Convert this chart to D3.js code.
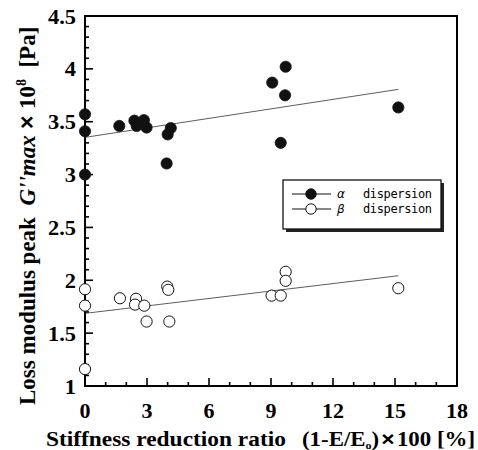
<!DOCTYPE html>
<html>
<head>
<meta charset="utf-8">
<script src="https://cdnjs.cloudflare.com/ajax/libs/d3/7.8.5/d3.min.js"></script>
<style>
  body { margin: 0; background: #fff; }
  svg { display: block; }
  text { white-space: pre; }
</style>
</head>
<body>
<div id="chart"></div>
<script>
// alpha dispersion (filled)
var alphaX = [0, 0, 0, 1.66, 2.39, 2.5, 2.85, 2.98, 3.95, 4.0, 4.15, 9.71, 9.06, 9.68, 9.47, 15.16];
var alphaY = [3.57, 3.41, 3.0, 3.46, 3.51, 3.46, 3.515, 3.445, 3.105, 3.38, 3.44, 4.02, 3.87, 3.75, 3.30, 3.635];
// beta dispersion (open)
var betaX = [0, 0, 0, 1.69, 2.47, 2.42, 2.87, 2.98, 3.98, 4.03, 4.08, 9.71, 9.71, 9.03, 9.47, 15.16];
var betaY = [1.915, 1.76, 1.16, 1.83, 1.825, 1.77, 1.76, 1.61, 1.94, 1.91, 1.61, 2.08, 1.995, 1.855, 1.855, 1.925];
// regression lines
var alphaFitX = [0, 15.16];
var alphaFitY = [3.352, 3.806];
var betaFitX = [0, 15.16];
var betaFitY = [1.687, 2.043];

var xTicks = [0, 3, 6, 9, 12, 15, 18];
var yTicks = [1, 1.5, 2, 2.5, 3, 3.5, 4, 4.5];
var legendText = ["dispersion", "dispersion"];
var legendSym = ["\u03b1", "\u03b2"];

var width = 478, height = 450;
var margin = {left: 85, top: 16, right: 21, bottom: 64};
var w = width - margin.left - margin.right;
var h = height - margin.top - margin.bottom;
var serif = "'Liberation Serif', 'Times New Roman', serif";
var sans = "'Liberation Sans', Arial, sans-serif";

var svg = d3.select("#chart").append("svg")
    .attr("width", width)
    .attr("height", height);

var x = d3.scaleLinear().domain([0, 18]).range([margin.left, margin.left + w]);
var y = d3.scaleLinear().domain([1, 4.5]).range([margin.top + h, margin.top]);

// frame
svg.append("rect")
    .attr("x", margin.left).attr("y", margin.top)
    .attr("width", w).attr("height", h)
    .style("fill", "none").style("stroke", "#000").style("stroke-width", 2);

// ticks pointing inward, longer at labelled values
var xMinor = d3.range(1, 18, 1);
svg.selectAll(".xt").data(xMinor).enter().append("line")
    .attr("x1", function (d) { return x(d); })
    .attr("x2", function (d) { return x(d); })
    .attr("y1", margin.top + h)
    .attr("y2", function (d) { return margin.top + h - (d % 3 === 0 ? 8 : 4); })
    .style("stroke", "#000").style("stroke-width", 1.6);

var yMinor = d3.range(11, 45, 1).map(function (d) { return d / 10; });
svg.selectAll(".yt").data(yMinor).enter().append("line")
    .attr("y1", function (d) { return y(d); })
    .attr("y2", function (d) { return y(d); })
    .attr("x1", margin.left)
    .attr("x2", function (d) { return margin.left + (Math.round(d * 10) % 5 === 0 ? 8 : 4); })
    .style("stroke", "#000").style("stroke-width", 1.6);

// tick labels (the source font is a bit wider than Times, so stretch it)
svg.selectAll(".xl").data(xTicks).enter().append("text")
    .attr("transform", function (d) { return "translate(" + x(d) + ",418) scale(1.1,1)"; })
    .attr("text-anchor", "middle")
    .style("font-family", serif)
    .style("font-weight", "bold")
    .style("font-size", "20px")
    .text(function (d) { return d; });

svg.selectAll(".yl").data(yTicks).enter().append("text")
    .attr("transform", function (d) { return "translate(76," + (y(d) + 7.5) + ") scale(1.12,1)"; })
    .attr("text-anchor", "end")
    .style("font-family", serif)
    .style("font-weight", "bold")
    .style("font-size", "20px")
    .text(function (d) { return d; });

// x axis title, in two parts
svg.append("text")
    .attr("transform", "translate(46,446) scale(1.17,1)")
    .style("font-family", serif)
    .style("font-weight", "bold")
    .style("font-size", "20px")
    .text("Stiffness reduction ratio");

var xt = svg.append("text")
    .attr("transform", "translate(302,446) scale(1.09,1)")
    .style("font-family", serif)
    .style("font-weight", "bold")
    .style("font-size", "21px");
xt.append("tspan").text("(1-E/E");
xt.append("tspan").attr("dy", 2.5).style("font-size", "11px").text("o");
xt.append("tspan").attr("dy", -2.5).text(")");
xt.append("tspan").attr("dx", 2).style("font-family", sans).text("\u00d7");
xt.append("tspan").attr("dx", 2).text("100 [%]");

// y axis title
var yt = svg.append("text")
    .attr("transform", "translate(35,405) rotate(-90)")
    .style("font-family", serif)
    .style("font-weight", "bold")
    .style("font-size", "23px");
yt.append("tspan").text("Loss modulus peak  ");
yt.append("tspan").style("font-style", "italic").text("G''max");
yt.append("tspan").style("font-family", sans).text(" \u00d7 ");
yt.append("tspan").text("10");
yt.append("tspan").attr("dy", -9).style("font-size", "14px").text("8");
yt.append("tspan").attr("dy", 9).text("  [Pa]");

// fit lines
var line = d3.line()
    .x(function (d) { return x(d[0]); })
    .y(function (d) { return y(d[1]); });

svg.append("path")
    .attr("d", line(d3.zip(alphaFitX, alphaFitY)))
    .style("fill", "none").style("stroke", "#333").style("stroke-width", 0.8);
svg.append("path")
    .attr("d", line(d3.zip(betaFitX, betaFitY)))
    .style("fill", "none").style("stroke", "#333").style("stroke-width", 0.8);

// points
svg.selectAll(".pa").data(d3.zip(alphaX, alphaY)).enter().append("circle")
    .attr("cx", function (d) { return x(d[0]); })
    .attr("cy", function (d) { return y(d[1]); })
    .attr("r", 5.6)
    .style("fill", "#111").style("stroke", "#111").style("stroke-width", 0.8);

svg.selectAll(".pb").data(d3.zip(betaX, betaY)).enter().append("circle")
    .attr("cx", function (d) { return x(d[0]); })
    .attr("cy", function (d) { return y(d[1]); })
    .attr("r", 5.6)
    .style("fill", "#fff").style("stroke", "#111").style("stroke-width", 1);

// legend with drop shadow
var lg = svg.append("g");
lg.append("rect")
    .attr("x", 286).attr("y", 183).attr("width", 158).attr("height", 49)
    .style("fill", "#222");
lg.append("rect")
    .attr("x", 283).attr("y", 180).attr("width", 158).attr("height", 49)
    .style("fill", "#fff").style("stroke", "#111").style("stroke-width", 1.3);

var rows = lg.selectAll(".row").data(legendText).enter().append("g")
    .attr("transform", function (d, i) { return "translate(0," + (194 + i * 15) + ")"; });
rows.append("line")
    .attr("x1", 292).attr("x2", 331).attr("y1", 0).attr("y2", 0)
    .style("stroke", "#111").style("stroke-width", 1.2);
rows.append("circle")
    .attr("cx", 311).attr("cy", 0).attr("r", 5.2)
    .style("fill", function (d, i) { return i === 0 ? "#111" : "#fff"; })
    .style("stroke", "#111").style("stroke-width", 1);
rows.append("text")
    .attr("x", 337).attr("y", 4)
    .style("font-family", "'DejaVu Sans'")
    .style("font-style", "italic")
    .style("font-size", "12px")
    .text(function (d, i) { return legendSym[i]; });
rows.append("text")
    .attr("x", 363).attr("y", 4)
    .attr("textLength", 69)
    .style("font-family", "'DejaVu Sans Mono', monospace")
    .style("font-size", "12px")
    .text(function (d) { return d; });
</script>
</body>
</html>
